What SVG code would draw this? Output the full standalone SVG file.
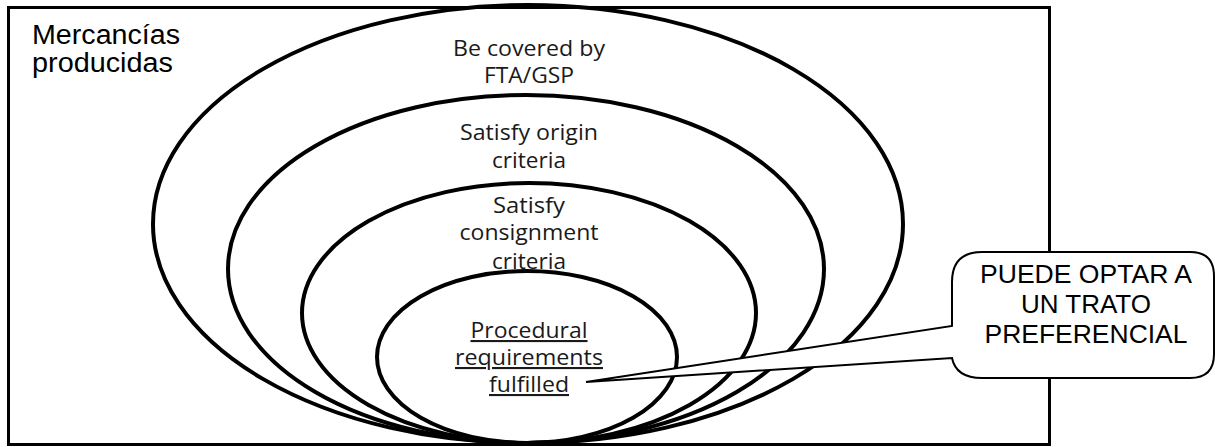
<svg xmlns="http://www.w3.org/2000/svg" width="1215" height="447" viewBox="0 0 1215 447">
<style>
.ell{fill:none;stroke:#000;stroke-width:4}
.lbl{font-family:"Open Sans","Liberation Sans",sans-serif;font-size:21px;fill:#1a1a1a;text-anchor:middle}
.ul{text-decoration:underline}
.ar{font-family:"Liberation Sans",Arial,sans-serif;font-size:26px;fill:#000}
.big{font-size:27px}
</style>
<rect x="0" y="0" width="1215" height="447" fill="#fff"/>
<g id="frame">
<rect x="8.5" y="7.5" width="1041" height="437" fill="#fff" stroke="#000" stroke-width="3"/>
<text class="ar big" x="32" y="44" textLength="148" lengthAdjust="spacingAndGlyphs">Mercancías</text>
<text class="ar big" x="32" y="72" textLength="141" lengthAdjust="spacingAndGlyphs">producidas</text>
</g>
<g id="e1"><ellipse class="ell" cx="528" cy="224" rx="375" ry="219"/>
<text class="lbl" x="529" y="56" textLength="152" lengthAdjust="spacingAndGlyphs">Be covered by</text>
<text class="lbl" x="529" y="83" textLength="90" lengthAdjust="spacingAndGlyphs">FTA/GSP</text></g>
<g id="e2"><ellipse class="ell" cx="526" cy="269" rx="298" ry="174"/>
<text class="lbl" x="529" y="140" textLength="138" lengthAdjust="spacingAndGlyphs">Satisfy origin</text>
<text class="lbl" x="529" y="168" textLength="74" lengthAdjust="spacingAndGlyphs">criteria</text></g>
<g id="e3"><ellipse class="ell" cx="529" cy="313" rx="227" ry="130"/>
<text class="lbl" x="529" y="213" textLength="72" lengthAdjust="spacingAndGlyphs">Satisfy</text>
<text class="lbl" x="529" y="240" textLength="139" lengthAdjust="spacingAndGlyphs">consignment</text>
<text class="lbl" x="529" y="269" textLength="74" lengthAdjust="spacingAndGlyphs">criteria</text></g>
<g id="e4"><ellipse class="ell" cx="527" cy="357" rx="150" ry="86"/>
<text class="lbl ul" x="529" y="338" textLength="117" lengthAdjust="spacingAndGlyphs">Procedural</text>
<text class="lbl ul" x="529" y="365" textLength="148" lengthAdjust="spacingAndGlyphs">requirements</text>
<text class="lbl ul" x="529" y="392" textLength="80" lengthAdjust="spacingAndGlyphs">fulfilled</text></g>
<g id="callout">
<path d="M982,252 H1190 Q1214,252 1214,276 V354 Q1214,378 1190,378 H982 Q956,378 952,358 L586,382 L952,326 V282 Q952,252 982,252 Z" fill="#fff" stroke="#000" stroke-width="2"/>
<text class="ar" x="1086" y="283" text-anchor="middle" textLength="212" lengthAdjust="spacingAndGlyphs">PUEDE OPTAR A</text>
<text class="ar" x="1086" y="313" text-anchor="middle">UN TRATO</text>
<text class="ar" x="1086" y="343" text-anchor="middle" textLength="203" lengthAdjust="spacingAndGlyphs">PREFERENCIAL</text>
</g>
<g id="connectors"></g>
</svg>
